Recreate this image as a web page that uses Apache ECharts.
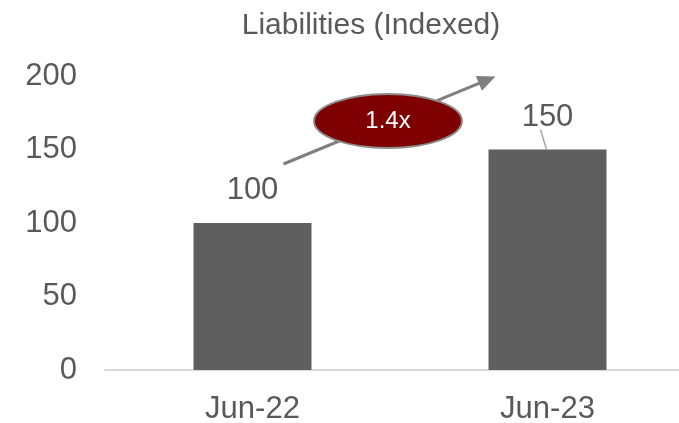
<!DOCTYPE html>
<html>
<head>
<meta charset="utf-8">
<script src="https://cdn.jsdelivr.net/npm/echarts@6/dist/echarts.min.js"></script>
<style>
  html, body { margin: 0; padding: 0; background: #fff; }
  #chart { width: 679px; height: 423px; }
</style>
</head>
<body>
<div id="chart"></div>
<script>
var categories = ['Jun-22', 'Jun-23'];
var liabilities = [100, 150];
var yTicks = [0, 50, 100, 150, 200];
var growthLabel = '1.4x';

var chartDom = document.getElementById('chart');
var chart = echarts.init(chartDom);

var textColor = '#595959';
var fontName = '"Liberation Sans", Arial, sans-serif';

var option = {
  animation: false,
  title: {
    text: 'Liabilities (Indexed)',
    left: 366,
    textAlign: 'center',
    top: 6,
    textStyle: { color: textColor, fontSize: 30, fontWeight: 'normal', fontFamily: fontName }
  },
  grid: {
    left: 105,
    top: 76,
    width: 590,
    bottom: 53,
    containLabel: false,
    outerBoundsMode: 'none'
  },
  xAxis: {
    type: 'category',
    data: categories,
    axisLine: { lineStyle: { color: '#d9d9d9', width: 2 } },
    axisTick: { show: false },
    axisLabel: { color: textColor, fontSize: 31, fontFamily: fontName, margin: 24 }
  },
  yAxis: {
    type: 'value',
    min: yTicks[0],
    max: yTicks[yTicks.length - 1],
    interval: 50,
    splitLine: { show: false },
    axisLine: { show: false },
    axisLabel: { color: textColor, fontSize: 31, fontFamily: fontName, margin: 28 }
  },
  series: [
    {
      type: 'bar',
      data: liabilities,
      barWidth: '40%',
      itemStyle: { color: '#5f5f5f' },
      label: {
        show: true,
        position: 'top',
        distance: 17,
        color: textColor,
        fontSize: 31,
        fontFamily: fontName
      }
    }
  ]
};

chart.setOption(option);

// annotation: growth arrow, ellipse badge and leader line for the 150 label
var p0 = chart.convertToPixel({ gridIndex: 0 }, [0, liabilities[0]]);
var p1 = chart.convertToPixel({ gridIndex: 0 }, [1, liabilities[1]]);
var arrowStart = [p0[0] + 31, p0[1] - 59];
var arrowEnd = [p1[0] - 52, p1[1] - 73];
var mid = [388, 121];

var dx = arrowEnd[0] - arrowStart[0], dy = arrowEnd[1] - arrowStart[1];
var len = Math.sqrt(dx * dx + dy * dy);
var ux = dx / len, uy = dy / len;
var bx = arrowEnd[0] - ux * 18, by = arrowEnd[1] - uy * 18;

chart.setOption({
  graphic: [
    {
      type: 'line',
      shape: { x1: arrowStart[0], y1: arrowStart[1], x2: bx + ux * 2, y2: by + uy * 2 },
      style: { stroke: '#7f7f7f', lineWidth: 3 },
      z: 10
    },
    {
      type: 'polygon',
      shape: { points: [arrowEnd, [bx - uy * 8, by + ux * 8], [bx + uy * 8, by - ux * 8]] },
      style: { fill: '#7f7f7f' },
      z: 10
    },
    {
      type: 'ellipse',
      shape: { cx: mid[0], cy: mid[1], rx: 74, ry: 27 },
      style: { fill: '#7f0000', stroke: '#8c8c8c', lineWidth: 2 },
      z: 11
    },
    {
      type: 'text',
      x: mid[0],
      y: mid[1],
      style: {
        text: growthLabel,
        fill: '#ffffff',
        fontSize: 24,
        fontFamily: fontName,
        align: 'center',
        verticalAlign: 'middle'
      },
      z: 12
    },
    {
      type: 'line',
      shape: { x1: p1[0] - 7, y1: p1[1] - 20, x2: p1[0] - 1, y2: p1[1] },
      style: { stroke: '#a6a6a6', lineWidth: 1.5 },
      z: 10
    }
  ]
});
</script>
</body>
</html>
